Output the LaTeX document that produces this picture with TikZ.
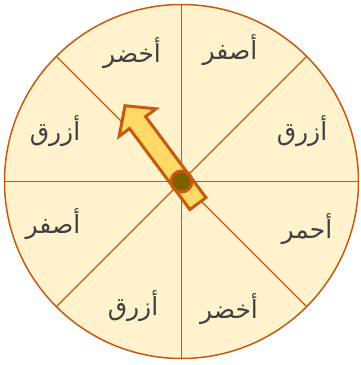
\documentclass[tikz,border=0pt]{standalone}
\usepackage{fontspec}
\usetikzlibrary{calc}
\newfontfamily\arabicfont[Script=Arabic]{DejaVu Sans}
\TeXXeTstate=1
\definecolor{edgeor}{HTML}{C55A11}
\definecolor{wheel}{HTML}{FFF2CC}
\definecolor{pointer}{HTML}{FFD966}
\definecolor{pivotc}{HTML}{7F6000}
\definecolor{textgray}{HTML}{404040}
\begin{document}
\begin{tikzpicture}[x=1pt,y=-1pt,
  lbl/.style={font=\arabicfont\fontsize{25}{30}\selectfont, text=textgray, inner sep=0pt},
  divider/.style={draw=edgeor, line width=1.3pt},
  rim/.style={draw=edgeor, line width=1.5pt},
  arrowshape/.style={draw=edgeor, fill=pointer, line width=3pt, line join=miter},
  pivot/.style={draw=edgeor, fill=pivotc, line width=3pt}]
\useasboundingbox (0,0) rectangle (360,365);
\coordinate (c) at (181.5,181.5);
\fill[wheel] (c) circle (177);
\foreach \a [count=\i] in {0,45,...,315} {
  \coordinate (r\i) at ($(c)+(\a:177)$);
  \draw[divider] (c) -- (r\i);
}
\draw[rim] (c) circle (177);
\begin{scope}[shift={(c)}, rotate=126.7]
  \draw[arrowshape] (-27.5,-10) -- (73.5,-10) -- (73.5,-23) -- (94.5,0) -- (73.5,23) -- (73.5,10) -- (-27.5,10) -- cycle;
\end{scope}
\node[circle, pivot, minimum size=21pt, inner sep=0pt] (pv) at (c) {};
\node[lbl] (t1) at (132,53) {\beginR أخضر\endR};
\node[lbl] (t2) at (230,50) {\beginR أصفر\endR};
\node[lbl] (t3) at (302,131) {\beginR أزرق\endR};
\node[lbl] (t4) at (307,229) {\beginR أحمر\endR};
\node[lbl] (t5) at (229,309) {\beginR أخضر\endR};
\node[lbl] (t6) at (133,306) {\beginR أزرق\endR};
\node[lbl] (t7) at (53,224) {\beginR أصفر\endR};
\node[lbl] (t8) at (55,131) {\beginR أزرق\endR};
\end{tikzpicture}
\end{document}
